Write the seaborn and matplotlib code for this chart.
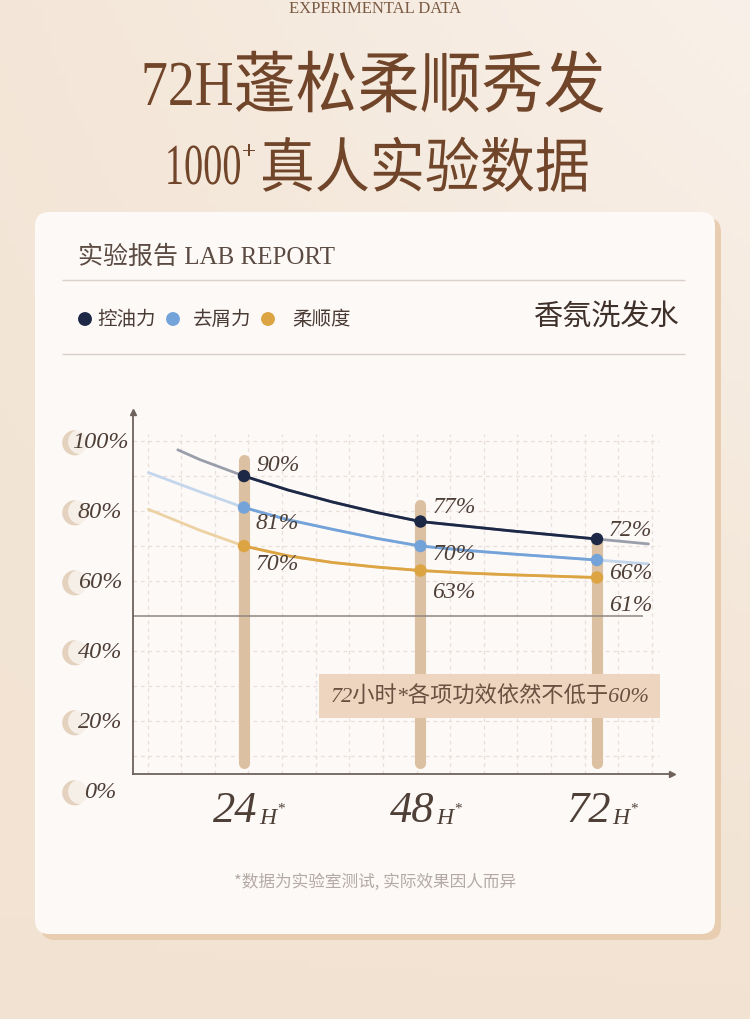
import numpy as np
import pandas as pd
import seaborn as sns
import matplotlib.pyplot as plt
from matplotlib.patches import FancyBboxPatch, PathPatch
from matplotlib.textpath import TextPath
from matplotlib.font_manager import FontProperties
from matplotlib.transforms import Affine2D, blended_transform_factory

# chart data
hours = [24, 48, 72]
x_labels = ["24", "48", "72"]
series = ["控油力", "去屑力", "柔顺度"]
oil_control = [90, 77, 72]
anti_dandruff = [81, 70, 66]
smoothness = [70, 63, 61]
pillar_tops = [96.3, 83.4, 72.9]
threshold = 50
y_ticks = [0, 20, 40, 60, 80, 100]

# trend curves as drawn
oil_curve_h = [15, 18, 24, 30, 36, 42, 48, 54, 60, 66, 72, 79]
oil_curve = [97.5, 94.7, 90, 86, 82.6, 79.6, 77, 75.7, 74.4, 73.2, 72, 70.6]
dandruff_curve_h = [11, 18, 24, 30, 36, 42, 48, 54, 60, 66, 72, 79]
dandruff_curve = [91, 85.5, 81, 77.5, 74.8, 72.2, 70, 68.8, 67.8, 66.9, 66, 64.9]
smooth_curve_h = [11, 18, 24, 30, 36, 42, 48, 54, 60, 66, 72]
smooth_curve = [80.5, 74.5, 70, 67.2, 65.3, 64, 63, 62.3, 61.8, 61.4, 61]

note = "72小时*各项功效依然不低于60%"
footnote = "*数据为实验室测试, 实际效果因人而异"

main_colors = ["#1c2845", "#74a3da", "#dca443"]
light_colors = ["#9a9eab", "#c3d6ec", "#ecd2a3"]
ink = "#4e3f37"
card = "#fdf9f7"

sns.set_theme(style="white")
plt.rcParams["font.family"] = ["Noto Sans CJK SC", "DejaVu Sans"]
serif = ["Liberation Serif", "Noto Sans CJK SC", "DejaVu Sans"]

W, H = 750, 1020
fig = plt.figure(figsize=(7.5, 10.2), dpi=100)

# background in pixel coordinates
bg = fig.add_axes([0, 0, 1, 1], zorder=0)
bg.set_xlim(0, W)
bg.set_ylim(H, 0)
bg.axis("off")
yy, xx = np.mgrid[0:1:120j, 0:1:90j]
base = np.array([241, 225, 207]) / 255
light = np.array([249, 241, 234]) / 255
mix = np.clip(0.1 + 0.6 * xx * (1 - yy) + 0.25 * (1 - yy), 0, 1)[..., None]
bg.imshow(base * (1 - mix) + light * mix, extent=[0, W, H, 0], aspect="auto", zorder=0)

bg.add_patch(FancyBboxPatch((41, 219), 680, 722, boxstyle="round,pad=0,rounding_size=14",
                            fc="#e9cdb1", ec="none", zorder=1))
bg.add_patch(FancyBboxPatch((35, 213), 680, 722, boxstyle="round,pad=0,rounding_size=14",
                            fc=card, ec="none", zorder=2))


def path_text(s, x, y, size, family, sx=1.0, sy=1.0, ha="left", color="#70452a"):
    tp = TextPath((0, 0), s, size=size, prop=FontProperties(family=family))
    ext = tp.get_extents()
    x0 = ext.x0 if ha == "left" else ext.x1
    tr = Affine2D().translate(-x0, 0).scale(sx, -sy).translate(x, y) + bg.transData
    bg.add_patch(PathPatch(tp, transform=tr, fc=color, ec="none", zorder=3))


# header
bg.text(375, 9, "EXPERIMENTAL DATA", ha="center", va="center", fontsize=12,
        fontfamily=serif, color="#7b5b45")
path_text("72H", 232, 106, 64, "Liberation Serif", sx=0.84, ha="right")
path_text("蓬松柔顺秀发", 236, 108, 62, "Noto Sans CJK SC", sy=1.08)
path_text("1000", 240, 185, 58, "Liberation Serif", sx=0.66, ha="right")
path_text("+", 243, 160, 26, "Liberation Serif")
path_text("真人实验数据", 263, 188, 55, "Noto Sans CJK SC", sy=1.08)

# card header
bg.text(78, 257, "实验报告 LAB REPORT", ha="left", va="center", fontsize=18,
        fontfamily=serif, color="#5b4b42", zorder=3)
bg.hlines([281, 355], 62, 685, color="#d9d0ca", lw=1, zorder=3)
legend_dot_x = [85, 173, 268]
legend_text_x = [97, 193, 292]
for name, color, dx, tx in zip(series, main_colors, legend_dot_x, legend_text_x):
    bg.scatter(dx, 320, s=100, color=color, edgecolor="none", zorder=3)
    bg.text(tx, 320, name, ha="left", va="center", fontsize=14, color="#4a3c35", zorder=3)
bg.text(680, 318, "香氛洗发水", ha="right", va="center", fontsize=21, color="#3f312a", zorder=3)
bg.text(375, 882, footnote, ha="center", va="center", fontsize=12, color="#b3aaa5", zorder=3)

# chart
ax = fig.add_axes([133 / W, 1 - 775 / H, 539 / W, 362 / H], zorder=2)
ax.patch.set_alpha(0)
x_lo, x_hi = 8.91, 82.2
y_lo, y_hi = 4.86, 108.3
ax.set_xlim(x_lo, x_hi)
ax.set_ylim(y_lo, y_hi)
ax.set_xticks([])
ax.set_yticks([])
sns.despine(ax=ax)
for side in ["left", "bottom"]:
    ax.spines[side].set_color("#6e625b")
    ax.spines[side].set_linewidth(1.3)
ax.plot(1, 0, ">", transform=ax.transAxes, clip_on=False, ms=5, color="#6e625b")
ax.plot(0, 1, "^", transform=ax.transAxes, clip_on=False, ms=5, color="#6e625b")

grid_style = dict(color="#e7dfda", lw=0.9, linestyles=(0, (3, 3)), zorder=1)
ax.hlines([v for v in range(10, 101, 10) if v != threshold], x_lo, 80.5, **grid_style)
ax.vlines(np.arange(10.9, 80, 4.57), y_lo, 102, **grid_style)

ax.vlines(hours, 7.9, [t - 1.6 for t in pillar_tops], colors="#dcc0a2", lw=8,
          capstyle="round", zorder=2)
ax.hlines(threshold, x_lo, 78.3, color="#8f8580", lw=1.1, zorder=2.5)

curves = pd.DataFrame({
    "hour": oil_curve_h + dandruff_curve_h + smooth_curve_h,
    "value": oil_curve + dandruff_curve + smooth_curve,
    "series": [series[0]] * len(oil_curve) + [series[1]] * len(dandruff_curve)
              + [series[2]] * len(smooth_curve),
})
sns.lineplot(data=curves, x="hour", y="value", hue="series", hue_order=series,
             palette=light_colors, estimator=None, lw=2, legend=False, ax=ax, zorder=3)
core = curves[(curves["hour"] >= 24) & (curves["hour"] <= 72)]
sns.lineplot(data=core, x="hour", y="value", hue="series", hue_order=series,
             palette=main_colors, estimator=None, lw=2, legend=False, ax=ax, zorder=3.5)

points = pd.DataFrame({
    "hour": hours * 3,
    "value": oil_control + anti_dandruff + smoothness,
    "series": [s for s in series for _ in hours],
})
sns.scatterplot(data=points, x="hour", y="value", hue="series", hue_order=series,
                palette=main_colors, s=80, edgecolor="none", legend=False, ax=ax, zorder=5)

# value labels: offsets in px (right, down)
label_dy = {series[0]: [-12, -15, -10], series[1]: [15, 7, 12], series[2]: [17, 21, 27]}
for _, row in points.iterrows():
    j = hours.index(row["hour"])
    ax.annotate(f"{row['value']:g}%", (row["hour"], row["value"]),
                xytext=(8.6, -label_dy[row["series"]][j] * 0.72), textcoords="offset points",
                ha="left", va="center", fontsize=17, style="italic", fontfamily=serif,
                color=ink, zorder=6)

# y tick labels with small petals
yt = blended_transform_factory(ax.transAxes, ax.transData)
for v in y_ticks:
    ax.scatter(-0.108, v - 0.5, s=330, color="#e4d2bf", edgecolor="none",
               transform=yt, clip_on=False, zorder=1)
    ax.scatter(-0.097, v - 0.2, s=330, color=card, alpha=0.75, edgecolor="none",
               transform=yt, clip_on=False, zorder=1.2)
    ax.text(-0.0612, v, f"{v}%", transform=yt, ha="center", va="center", fontsize=17.5,
            style="italic", fontfamily=serif, color=ink, clip_on=False, zorder=2)

# x labels
xt = blended_transform_factory(ax.transData, ax.transAxes)
for h, lab in zip(hours, x_labels):
    ax.annotate(lab, (h, 0), xycoords=xt, xytext=(10, -34), textcoords="offset points",
                ha="right", va="baseline", fontsize=32, style="italic", fontfamily=serif,
                color=ink, annotation_clip=False)
    ax.annotate("H", (h, 0), xycoords=xt, xytext=(11, -35), textcoords="offset points",
                ha="left", va="baseline", fontsize=17, style="italic", fontfamily=serif,
                color=ink, annotation_clip=False)
    ax.annotate("*", (h, 0), xycoords=xt, xytext=(24, -27), textcoords="offset points",
                ha="left", va="baseline", fontsize=11, fontfamily=serif,
                color=ink, annotation_clip=False)

ax.text(0.662, 0.2155, note, transform=ax.transAxes, ha="center", va="center",
        fontsize=16, style="italic", fontfamily=serif, color="#6a5040", zorder=6,
        bbox=dict(boxstyle="square,pad=0.5", fc="#edd5c0", ec="none"))

fig.savefig("out.png", dpi=100)
